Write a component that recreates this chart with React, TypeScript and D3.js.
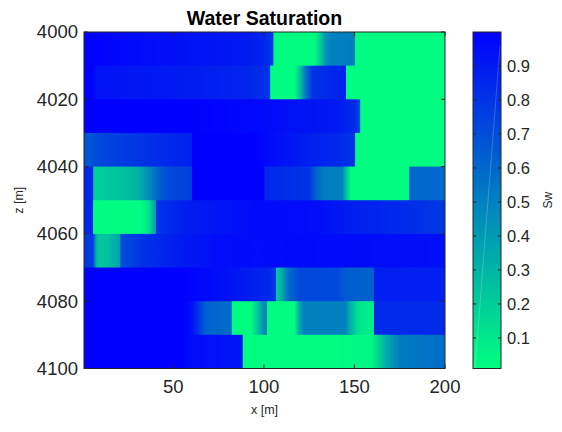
import React from "react";
import * as d3 from "d3";

// ---- data ----
const title = "Water Saturation";
const xLabel = "x [m]";
const zLabel = "z [m]";
const cbLabel = "Sw";
const xDomain = [0.66, 200];
const zDomain = [4000, 4100];
const xTicks = [50, 100, 150, 200];
const zTicks = [4000, 4020, 4040, 4060, 4080, 4100];
const cbDomain = [0.01, 1.0];
const cbTicks = [0.1, 0.2, 0.3, 0.4, 0.5, 0.6, 0.7, 0.8, 0.9];
const layerTops = [4000, 4010, 4020, 4030, 4040, 4050, 4060, 4070, 4080, 4090];
const layerThickness = 10;

// each layer: [x, Sw] profile read along x
const layer1: [number, number][] = [[0.66, 1.0], [15, 0.98], [30, 0.96], [60, 0.93], [90, 0.9], [100, 0.86], [105, 0.78], [105.5, 0.02], [128, 0.02], [131, 0.2], [134, 0.42], [137, 0.5], [150.3, 0.52], [150.6, 0.02], [200, 0.02]];
const layer2: [number, number][] = [[0.66, 1.0], [5, 1.0], [8, 0.93], [50, 0.9], [90, 0.86], [100, 0.82], [103.4, 0.78], [103.7, 0.02], [117, 0.02], [120, 0.25], [123, 0.55], [127, 0.8], [135, 0.84], [145.3, 0.88], [145.6, 0.02], [200, 0.02]];
const layer3: [number, number][] = [[0.66, 1.0], [60, 1.0], [95, 0.97], [120, 0.93], [140, 0.9], [150, 0.84], [153, 0.72], [153.4, 0.02], [200, 0.02]];
const layer4: [number, number][] = [[0.66, 0.7], [3, 0.66], [8, 0.72], [25, 0.78], [45, 0.84], [60, 0.87], [60.4, 1.0], [95, 1.0], [105, 0.95], [125, 0.88], [140, 0.85], [150.3, 0.8], [150.6, 0.02], [200, 0.02]];
const layer5: [number, number][] = [[0.66, 0.85], [5.5, 0.85], [6, 0.2], [20, 0.24], [30, 0.3], [36, 0.45], [42, 0.62], [48, 0.72], [60, 0.75], [60.3, 1.0], [100, 1.0], [100.5, 0.85], [125, 0.8], [129, 0.6], [133, 0.52], [143, 0.5], [146, 0.2], [148, 0.02], [180, 0.02], [180.3, 0.6], [200, 0.6]];
const layer6: [number, number][] = [[0.66, 0.85], [5.5, 0.85], [5.7, 0.02], [32, 0.02], [36, 0.1], [39, 0.3], [40.3, 0.4], [40.5, 0.8], [55, 0.88], [75, 0.92], [95, 0.96], [130, 0.95], [150, 0.88], [175, 0.84], [200, 0.78]];
const layer7: [number, number][] = [[0.66, 0.78], [5.5, 0.78], [7.5, 0.3], [9, 0.22], [14, 0.25], [20.5, 0.38], [21, 0.7], [35, 0.82], [55, 0.9], [75, 0.95], [120, 0.96], [200, 0.94]];
const layer8: [number, number][] = [[0.66, 1.0], [55, 1.0], [70, 0.96], [90, 0.9], [103, 0.85], [106.5, 0.78], [107, 0.2], [110, 0.35], [114, 0.6], [120, 0.72], [140, 0.72], [146, 0.64], [160.5, 0.62], [160.7, 0.88], [200, 0.88]];
const layer9: [number, number][] = [[0.66, 1.0], [55, 1.0], [60, 0.95], [65, 0.75], [68, 0.62], [82, 0.58], [82.5, 0.02], [93, 0.02], [96, 0.2], [100, 0.45], [101.5, 0.48], [101.8, 0.02], [117, 0.02], [119, 0.3], [122, 0.5], [145, 0.5], [147, 0.35], [152, 0.12], [160.5, 0.06], [160.7, 0.84], [200, 0.84]];
const layer10: [number, number][] = [[0.66, 1.0], [55, 1.0], [60, 0.95], [88, 0.92], [88.6, 0.02], [140, 0.02], [160, 0.04], [161, 0.1], [168, 0.35], [175, 0.52], [200, 0.58]];
const layers = [layer1, layer2, layer3, layer4, layer5, layer6, layer7, layer8, layer9, layer10];

// ---- layout ----
const W = 562, H = 432;
const plot = { left: 84, right: 445, top: 32, bottom: 368.5 };
const cb = { left: 473, right: 501, top: 32, bottom: 368.5 };
const axisColor = "#262626";
const font = "'Liberation Sans', Arial, Helvetica, sans-serif";

export default function App() {
  const x = d3.scaleLinear().domain(xDomain).range([plot.left, plot.right]);
  const z = d3.scaleLinear().domain(zDomain).range([plot.top, plot.bottom]);
  const cy = d3.scaleLinear().domain(cbDomain).range([cb.bottom, cb.top]);
  const colorLow = "rgb(0,255,128)";
  const colorHigh = "rgb(0,0,255)";
  const color = d3.scaleLinear<string>().domain(cbDomain).range([colorLow, colorHigh]).interpolate(d3.interpolateRgb).clamp(true);
  const tickLen = 4;
  const span = xDomain[1] - xDomain[0];
  const cbStops = d3.range(0, 11).map((i) => cbDomain[0] + (i / 10) * (cbDomain[1] - cbDomain[0]));

  return (
    <svg width={W} height={H} style={{ position: "absolute", left: 0, top: 0, background: "#fff" }} fontFamily={font}>
      <defs>
        {layers.map((ly, i) => (
          <linearGradient key={i} id={`lg${i}`} gradientUnits="userSpaceOnUse" x1={x(xDomain[0])} x2={x(xDomain[1])} y1={0} y2={0}>
            {ly.map(([xv, v], j) => (
              <stop key={j} offset={(xv - xDomain[0]) / span} stopColor={color(v)} />
            ))}
          </linearGradient>
        ))}
        <linearGradient id="cbg" x1="0" x2="0" y1="1" y2="0">
          {cbStops.map((v, j) => (
            <stop key={j} offset={j / 10} stopColor={color(v)} />
          ))}
        </linearGradient>
        <clipPath id="plotClip">
          <rect x={plot.left} y={plot.top} width={plot.right - plot.left} height={plot.bottom - plot.top} />
        </clipPath>
      </defs>

      {/* heatmap layers */}
      <g clipPath="url(#plotClip)">
        {layers.map((ly, i) => (
          <rect key={i} x={x(xDomain[0])} width={x(xDomain[1]) - x(xDomain[0])}
            y={z(layerTops[i])} height={z(layerTops[i] + layerThickness) - z(layerTops[i]) + 1.2}
            fill={`url(#lg${i})`} />
        ))}
      </g>

      {/* axes box */}
      <rect x={plot.left} y={plot.top} width={plot.right - plot.left} height={plot.bottom - plot.top} fill="none" stroke={axisColor} strokeWidth={1} />
      {xTicks.map((t) => (
        <g key={t}>
          <line x1={x(t)} x2={x(t)} y1={plot.bottom} y2={plot.bottom - tickLen} stroke={axisColor} />
          <line x1={x(t)} x2={x(t)} y1={plot.top} y2={plot.top + tickLen} stroke={axisColor} />
          <text x={x(t)} y={plot.bottom + 24} textAnchor="middle" fontSize={18.5} fill={axisColor}>{t}</text>
        </g>
      ))}
      {zTicks.map((t) => (
        <g key={t}>
          <line x1={plot.left} x2={plot.left + tickLen} y1={z(t)} y2={z(t)} stroke={axisColor} />
          <line x1={plot.right} x2={plot.right - tickLen} y1={z(t)} y2={z(t)} stroke={axisColor} />
          <text x={plot.left - 6} y={z(t)} dy="0.35em" textAnchor="end" fontSize={18.5} fill={axisColor}>{t}</text>
        </g>
      ))}
      <text x={(plot.left + plot.right) / 2} y={24.5} textAnchor="middle" fontSize={19.5} fontWeight="bold" fill="#000">{title}</text>
      <text x={(plot.left + plot.right) / 2} y={414} textAnchor="middle" fontSize={12.5} fill={axisColor}>{xLabel}</text>
      <text transform={`translate(23,${(plot.top + plot.bottom) / 2}) rotate(-90)`} textAnchor="middle" fontSize={12.5} fill={axisColor}>{zLabel}</text>

      {/* colorbar */}
      <rect x={cb.left} y={cb.top} width={cb.right - cb.left} height={cb.bottom - cb.top} fill="url(#cbg)" />
      <line x1={cb.left + 2} y1={cb.bottom} x2={cb.right - 1} y2={cb.top + 14} stroke="#fff" strokeOpacity={0.3} strokeWidth={0.7} />
      <rect x={cb.left} y={cb.top} width={cb.right - cb.left} height={cb.bottom - cb.top} fill="none" stroke={axisColor} strokeWidth={1} />
      {cbTicks.map((t) => (
        <g key={t}>
          <line x1={cb.right} x2={cb.right - 3} y1={cy(t)} y2={cy(t)} stroke={axisColor} />
          <line x1={cb.left} x2={cb.left + 3} y1={cy(t)} y2={cy(t)} stroke={axisColor} />
          <text x={cb.right + 6} y={cy(t)} dy="0.35em" fontSize={16.5} fill={axisColor}>{t.toFixed(1)}</text>
        </g>
      ))}
      <text transform={`translate(552,${(cb.top + cb.bottom) / 2}) rotate(-90)`} textAnchor="middle" fontSize={12} fill={axisColor}>{cbLabel}</text>
    </svg>
  );
}
